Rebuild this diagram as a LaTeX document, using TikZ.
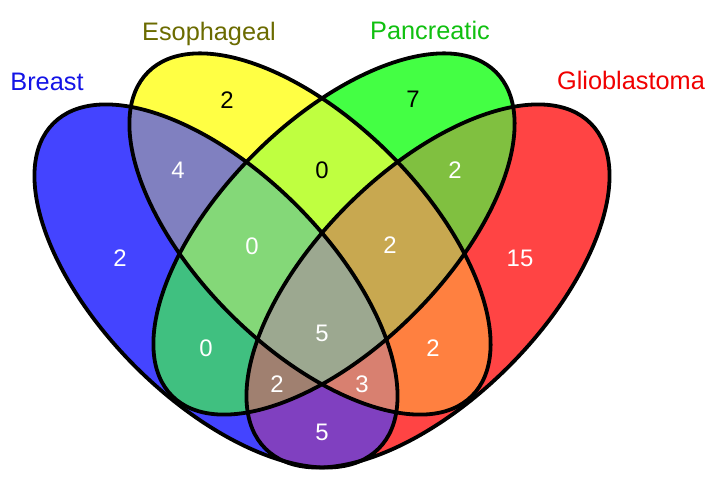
\documentclass[tikz,border=0pt]{standalone}
\usepackage{fontspec}
\setmainfont{Liberation Sans}
\usepackage{tikz}
\definecolor{cBr}{HTML}{4444FF}
\definecolor{cEs}{HTML}{FFFF44}
\definecolor{cPa}{HTML}{44FF44}
\definecolor{cGl}{HTML}{FF4444}
\definecolor{cBE}{HTML}{8080C0}
\definecolor{cBP}{HTML}{40C080}
\definecolor{cBG}{HTML}{8040C0}
\definecolor{cEP}{HTML}{BFFF40}
\definecolor{cEG}{HTML}{FF8040}
\definecolor{cPG}{HTML}{80C040}
\definecolor{cBEP}{HTML}{84D878}
\definecolor{cBEG}{HTML}{D88070}
\definecolor{cBPG}{HTML}{A08070}
\definecolor{cEPG}{HTML}{C8A850}
\definecolor{cAll}{HTML}{9CA890}
\definecolor{tBr}{HTML}{1414E6}
\definecolor{tEs}{HTML}{6B6B00}
\definecolor{tPa}{HTML}{10C010}
\definecolor{tGl}{HTML}{F00000}
\newcommand\setBr{(216,205) ellipse [x radius=230, y radius=114, rotate=-45]}
\newcommand\setEs{(310,257) ellipse [x radius=229, y radius=113, rotate=-45]}
\newcommand\setPa{(334,257) ellipse [x radius=229, y radius=113, rotate=45]}
\newcommand\setGl{(428,205) ellipse [x radius=230, y radius=114, rotate=45]}

\begin{document}
\begin{tikzpicture}[x=0.025cm,y=0.025cm,
  num/.style={font=\fontsize{17}{17}\selectfont,text=white,inner sep=1pt},
  numdark/.style={num,text=black},
  setname/.style={font=\fontsize{18}{18}\selectfont,anchor=base,inner sep=0pt},
  rim/.style={line width=2.7pt,draw=black}]
\useasboundingbox (0,0) rectangle (724,491);
% ---- single sets
\fill[cBr] \setBr;
\fill[cGl] \setGl;
\fill[cEs] \setEs;
\fill[cPa] \setPa;
% ---- pairs
\begin{scope}\clip \setBr; \fill[cBE] \setEs; \end{scope}
\begin{scope}\clip \setBr; \fill[cBP] \setPa; \end{scope}
\begin{scope}\clip \setBr; \fill[cBG] \setGl; \end{scope}
\begin{scope}\clip \setEs; \fill[cEP] \setPa; \end{scope}
\begin{scope}\clip \setEs; \fill[cEG] \setGl; \end{scope}
\begin{scope}\clip \setPa; \fill[cPG] \setGl; \end{scope}
% ---- triples
\begin{scope}\clip \setBr; \clip \setEs; \fill[cBEP] \setPa; \end{scope}
\begin{scope}\clip \setBr; \clip \setEs; \fill[cBEG] \setGl; \end{scope}
\begin{scope}\clip \setBr; \clip \setPa; \fill[cBPG] \setGl; \end{scope}
\begin{scope}\clip \setEs; \clip \setPa; \fill[cEPG] \setGl; \end{scope}
% ---- all four
\begin{scope}\clip \setBr; \clip \setEs; \clip \setPa; \fill[cAll] \setGl; \end{scope}
% ---- outlines
\draw[rim] \setBr;
\draw[rim] \setEs;
\draw[rim] \setPa;
\draw[rim] \setGl;
% ---- set names
\node[setname,text=tBr] (nBr) at (47,400) {Breast};
\node[setname,text=tEs] (nEs) at (209,450) {Esophageal};
\node[setname,text=tPa] (nPa) at (430,451) {Pancreatic};
\node[setname,text=tGl] (nGl) at (631,401) {Glioblastoma};
% ---- counts
\node[num] (vBr) at (120,233) {2};
\node[numdark] (vEs) at (227,391) {2};
\node[numdark] (vPa) at (413,392) {7};
\node[num] (vGl) at (520,233) {15};
\node[num] (vBE) at (178,321) {4};
\node[numdark] (vEP) at (322,321) {0};
\node[num] (vPG) at (455,321) {2};
\node[num] (vBEP) at (252,245) {0};
\node[num] (vEPG) at (390,246) {2};
\node[num] (vBP) at (206,143) {0};
\node[num] (vEG) at (433,143) {2};
\node[num] (vAll) at (322,158) {5};
\node[num] (vBPG) at (277,107) {2};
\node[num] (vBEG) at (362,107) {3};
\node[num] (vBG) at (322,59) {5};
\end{tikzpicture}
\end{document}
